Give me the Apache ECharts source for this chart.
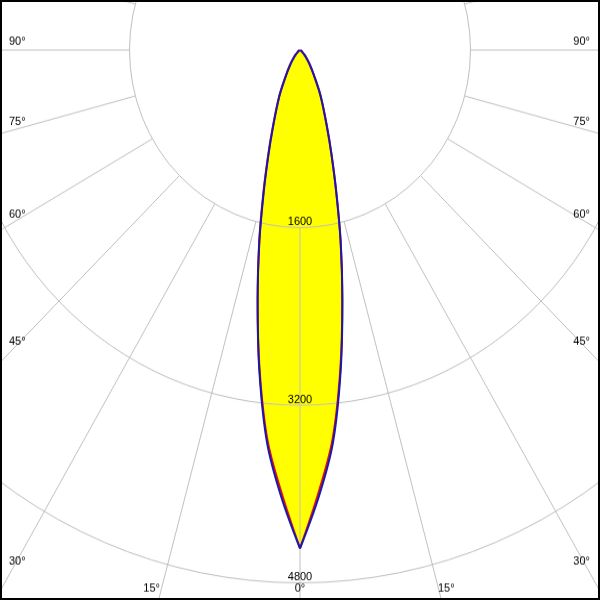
<!DOCTYPE html>
<html><head><meta charset="utf-8">
<script src="https://cdn.jsdelivr.net/npm/echarts@6/dist/echarts.min.js"></script>
<style>
html,body{margin:0;padding:0;background:#fff;}
#wrap{position:relative;width:600px;height:600px;overflow:hidden;background:#fff;}
#chart{position:absolute;left:0;top:0;width:600px;height:576px;transform:scaleY(1.0417);transform-origin:0 0;}
#frame{position:absolute;left:0;top:0;width:600px;height:600px;box-sizing:border-box;border:2px solid #000;pointer-events:none;}
</style></head><body>
<div id="wrap"><div id="chart"></div><div id="frame"></div></div>
<script>
// Angles measured from nadir (0° = straight down), in degrees
const angles     = [0, 2.5, 5, 7.5, 10, 12.5, 15, 17.5, 20, 25, 30, 35, 40, 45, 50, 60, 70, 80, 90];
// Luminous intensity (cd) – blue curve (left / right half-planes)
const blueLeft   = [4490, 4030, 3550, 2920, 2290, 1760, 1310, 980, 745, 460, 260, 160, 95, 55, 30, 10, 3, 0, 0];
const blueRight  = [4490, 4030, 3550, 2920, 2290, 1760, 1310, 980, 745, 460, 260, 160, 95, 55, 30, 10, 3, 0, 0];
// red curve (left / right half-planes)
const redLeft    = [4490, 3990, 3520, 2905, 2290, 1770, 1325, 995, 755, 462, 261, 160, 95, 55, 30, 10, 3, 0, 0];
const redRight   = [4490, 3990, 3515, 2900, 2285, 1760, 1305, 978, 744, 458, 259, 159, 95, 55, 30, 10, 3, 0, 0];
// radial tick labels
const radiusTicks = [1600, 3200, 4800];
// angle tick labels
const angleTicks  = [0, 15, 30, 45, 60, 75, 90];

const K = 600 / 576;            // vertical stretch of the original drawing
const FONT = '11px "Liberation Sans", Arial, sans-serif';
const GRID = '#c0c0c0';

function half(vals, side) {
  return angles.map((a, i) => [vals[i], side === 'left' ? a : 360 - a]);
}

// layout of angle labels (screen positions near the frame)
const sideY = {90: 42, 75: 121.5, 60: 215, 45: 342, 30: 561};
const graphics = [];
function lab(txt, x, y, align) {
  graphics.push({type: 'text', x: x, y: y / K, z: 20,
    style: {text: txt, font: FONT, fill: '#000', align: align, verticalAlign: 'middle'}});
}
angleTicks.forEach(a => {
  const txt = a + '°';
  if (sideY[a] !== undefined) { lab(txt, 9, sideY[a], 'left'); lab(txt, 590, sideY[a], 'right'); }
  else if (a === 15) { lab(txt, 160, 589, 'right'); lab(txt, 438, 589, 'left'); }
  else if (a === 0) { lab(txt, 300, 589, 'center'); }
});

function fillSeries(data) {
  return {type: 'line', coordinateSystem: 'polar', polarIndex: 0, data: data, z: 0, smooth: 0.35,
    symbol: 'none', lineStyle: {width: 0, opacity: 0}, areaStyle: {color: '#ffff00', opacity: 1}, silent: true};
}
function lineSeries(data, color, z) {
  return {type: 'line', coordinateSystem: 'polar', polarIndex: 0, data: data, z: z, smooth: 0.35,
    symbol: 'none', lineStyle: {width: 2, color: color}};
}

const chart = echarts.init(document.getElementById('chart'), null, {renderer: 'canvas'});
chart.setOption({
  animation: false,
  backgroundColor: '#fff',
  textStyle: {fontFamily: '"Liberation Sans", Arial, sans-serif'},
  polar: [
    {center: [300, 48], radius: 682},
    {center: [300, 48], radius: [170.5, 682]}
  ],
  angleAxis: [
    {polarIndex: 0, type: 'value', min: 0, max: 360, interval: 15, startAngle: 270, clockwise: true,
     axisLine: {show: false}, axisTick: {show: false}, axisLabel: {show: false}, splitLine: {show: false}},
    {polarIndex: 1, type: 'value', min: 0, max: 360, interval: 15, startAngle: 270, clockwise: true, z: 1,
     axisLine: {show: false}, axisTick: {show: false}, axisLabel: {show: false},
     splitLine: {show: true, lineStyle: {color: GRID, width: 1}}}
  ],
  radiusAxis: [
    {polarIndex: 0, type: 'value', min: 0, max: 6400, interval: 1600, z: 1,
     axisLine: {show: false}, axisTick: {show: false},
     axisLabel: {show: true, margin: 0, align: 'center', verticalAlign: 'bottom', color: '#000',
       fontSize: 11, formatter: v => radiusTicks.includes(v) ? String(v) : ''},
     splitLine: {show: true, lineStyle: {color: GRID, width: 1}}},
    {polarIndex: 1, type: 'value', min: 0, max: 1, show: false}
  ],
  graphic: graphics,
  series: [
    fillSeries(half(redLeft, 'left')),
    fillSeries(half(redRight, 'right')),
    fillSeries(half(blueLeft, 'left')),
    fillSeries(half(blueRight, 'right')),
    lineSeries(half(redLeft, 'left'), '#e01010', 3),
    lineSeries(half(redRight, 'right'), '#e01010', 3),
    lineSeries(half(blueLeft, 'left'), '#1818b0', 4),
    lineSeries(half(blueRight, 'right'), '#1818b0', 4)
  ]
});
</script>
</body></html>
